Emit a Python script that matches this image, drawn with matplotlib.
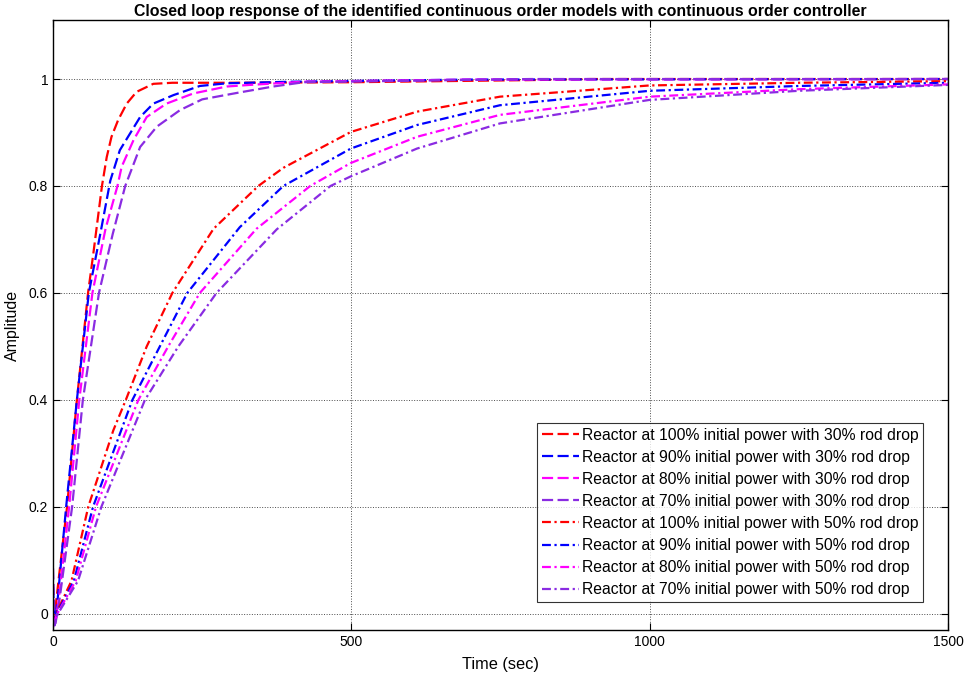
import matplotlib
matplotlib.use("Agg")
import matplotlib.pyplot as plt

# step responses (time in sec)
t_r30 = [0, 3, 10, 23.5, 40, 58.7, 67.6, 82, 90, 98, 109, 123.5, 140, 168, 200, 300, 500, 800, 900, 1500]
y_r30 = [-0.02, 0.0, 0.07, 0.2, 0.4, 0.6, 0.674, 0.8, 0.854, 0.892, 0.923, 0.954, 0.976, 0.991, 0.993,
         0.993, 0.994, 0.998, 1.0, 1.0]

t_b30 = [0, 3, 8, 22, 40, 60, 80, 96, 112, 129, 146, 168, 202, 246, 291, 400, 700, 1500]
y_b30 = [0.05, -0.02, 0.03, 0.2, 0.4, 0.6, 0.715, 0.81, 0.867, 0.898, 0.929, 0.954, 0.970, 0.987,
         0.992, 0.995, 0.999, 1.0]

t_m30 = [0, 4, 10, 27, 44, 66, 88, 108, 115, 135, 157, 190, 235, 291, 330, 420, 700, 1500]
y_m30 = [-0.02, -0.015, 0.03, 0.2, 0.4, 0.6, 0.72, 0.8, 0.836, 0.886, 0.929, 0.954, 0.973, 0.986,
         0.989, 0.995, 0.999, 1.0]

t_p30 = [0, 3, 10, 32, 50, 77, 100, 121, 146, 174, 213, 250, 313, 369, 420, 800, 1500]
y_p30 = [0.085, -0.025, 0.02, 0.2, 0.4, 0.6, 0.71, 0.8, 0.873, 0.911, 0.942, 0.962, 0.975, 0.986,
         0.994, 1.0, 1.0]

t_r50 = [0, 5, 31, 59, 101, 122, 157, 200, 269, 344, 386, 499, 610, 749, 1000, 1250, 1500]
y_r50 = [-0.02, 0.0, 0.062, 0.2, 0.343, 0.4, 0.5, 0.6, 0.72, 0.8, 0.834, 0.901, 0.939, 0.967, 0.988,
         0.993, 0.996]

t_b50 = [0, 6, 35, 67, 133, 179, 225, 313, 386, 499, 610, 749, 1000, 1250, 1500]
y_b50 = [-0.02, 0.0, 0.062, 0.2, 0.4, 0.5, 0.6, 0.723, 0.8, 0.87, 0.914, 0.951, 0.978, 0.987, 0.993]

t_m50 = [0, 7, 38, 72, 143, 193, 246, 341, 431, 499, 610, 749, 1000, 1250, 1500]
y_m50 = [-0.02, 0.0, 0.062, 0.2, 0.4, 0.5, 0.6, 0.72, 0.8, 0.843, 0.892, 0.933, 0.967, 0.981, 0.99]

t_p50 = [0, 8, 42, 81, 154, 210, 274, 375, 465, 499, 610, 749, 1000, 1250, 1500]
y_p50 = [-0.025, 0.0, 0.062, 0.2, 0.4, 0.5, 0.6, 0.719, 0.8, 0.818, 0.87, 0.917, 0.961, 0.978, 0.989]

labels = [
    "Reactor at 100% initial power with 30% rod drop",
    "Reactor at 90% initial power with 30% rod drop",
    "Reactor at 80% initial power with 30% rod drop",
    "Reactor at 70% initial power with 30% rod drop",
    "Reactor at 100% initial power with 50% rod drop",
    "Reactor at 90% initial power with 50% rod drop",
    "Reactor at 80% initial power with 50% rod drop",
    "Reactor at 70% initial power with 50% rod drop",
]

RED, BLUE, MAG, PURP = "#ff0000", "#0000ff", "#ff00ff", "#8a2be2"
DASH = (5, 2)
DASHDOT = (4, 1.6, 1, 1.6)

series = [
    (t_r30, y_r30, RED, DASH), (t_b30, y_b30, BLUE, DASH),
    (t_m30, y_m30, MAG, DASH), (t_p30, y_p30, PURP, DASH),
    (t_r50, y_r50, RED, DASHDOT), (t_b50, y_b50, BLUE, DASHDOT),
    (t_m50, y_m50, MAG, DASHDOT), (t_p50, y_p50, PURP, DASHDOT),
]

plt.rcParams["font.family"] = ["Liberation Sans", "DejaVu Sans"]

fig = plt.figure(figsize=(9.64, 6.73), dpi=100)
ax = fig.add_axes([0.055, 0.064, 0.9285, 0.906])

for (t, y, c, d), lab in zip(series, labels):
    ax.plot(t, y, color=c, linestyle=(0, d), lw=1.6, label=lab)

ax.set_xlim(0, 1500)
ax.set_ylim(-0.03, 1.11)
ax.set_xticks([0, 500, 1000, 1500])
ax.set_yticks([0, 0.2, 0.4, 0.6, 0.8, 1])
ax.set_yticklabels(["0", "0.2", "0.4", "0.6", "0.8", "1"])
ax.tick_params(direction="in", top=True, right=True, labelsize=10, length=5, width=0.8)
ax.grid(True, linestyle=":", color="black", lw=0.7, alpha=0.7)
for s in ax.spines.values():
    s.set_linewidth(1.0)

ax.set_xlabel("Time (sec)", fontsize=11.8, labelpad=6)
ax.set_ylabel("Amplitude", fontsize=11.5, labelpad=6)
ax.set_title("Closed loop response of the identified continuous order models with continuous order controller",
             fontsize=11.4, fontweight="bold", pad=3)

leg = ax.legend(loc="lower right", bbox_to_anchor=(0.972, 0.046), borderaxespad=0,
                fontsize=11.3, frameon=True, fancybox=False, edgecolor="black",
                handlelength=2.4, handletextpad=0.15, labelspacing=0.45, borderpad=0.3)
leg.get_frame().set_linewidth(0.8)

fig.savefig("out.png", dpi=100)
